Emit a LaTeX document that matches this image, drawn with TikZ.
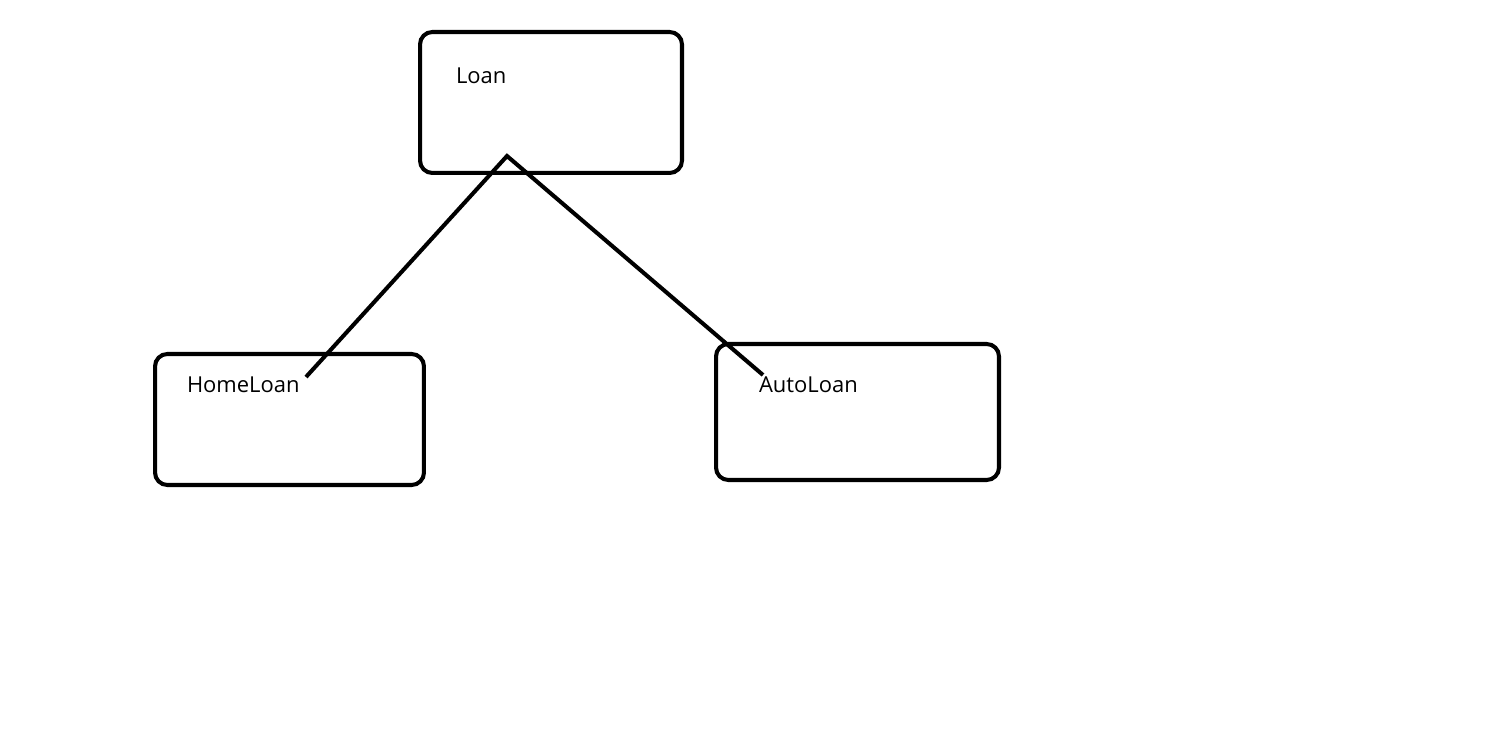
\documentclass[tikz,border=0pt]{standalone}
\usepackage{fontspec}
\setmainfont{Open Sans}

\tikzset{
  classbox/.style={draw,line width=2.3pt,rounded corners=7pt,minimum width=#1},
  boxlabel/.style={anchor=west,font=\fontsize{12.5}{15}\selectfont,inner sep=0pt}
}

\begin{document}
\begin{tikzpicture}[x=0.02cm,y=-0.02cm,line width=2.3pt]
  \useasboundingbox (0,0) rectangle (1508,742);

  \node[classbox=5.24cm,minimum height=2.82cm] (loan) at (551,102.5) {};
  \node[boxlabel] (loanlbl) at (454,76) {Loan};

  \node[classbox=5.38cm,minimum height=2.62cm] (home) at (289.5,419.5) {};
  \node[boxlabel] (homelbl) at (185,385) {HomeLoan};

  \node[classbox=5.66cm,minimum height=2.72cm] (auto) at (857.5,412) {};
  \node[boxlabel] (autolbl) at (757,385) {AutoLoan};

  \coordinate (apex) at (507,156);
  \coordinate (homeend) at (306,377);
  \coordinate (autoend) at (763,375);
  \draw (homeend) -- (apex) -- (autoend);
\end{tikzpicture}
\end{document}
